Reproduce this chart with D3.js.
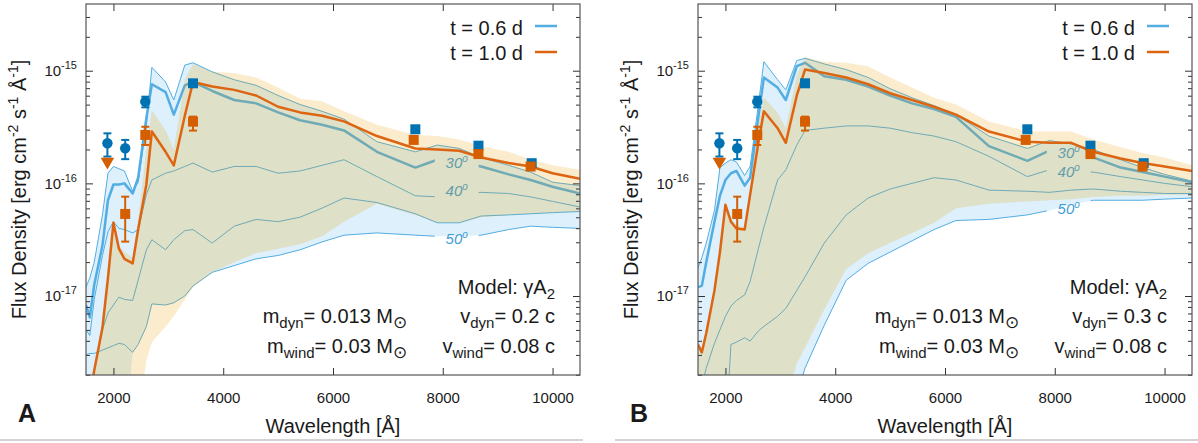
<!DOCTYPE html>
<html>
<head>
<meta charset="utf-8">
<script src="https://cdn.jsdelivr.net/npm/d3@7"></script>
<style>
  body { margin: 0; background: #fff; }
  svg { display: block; background: #fff; }
  text { font-family: "Liberation Sans", Arial, Helvetica, sans-serif; fill: #1a1a1a; }
</style>
</head>
<body>
<svg id="chart"></svg>
<script>
//--Data
// model wavelength grid [Å]
const wavelength = [1500, 1570, 1650, 1800, 1900, 2000, 2100, 2200, 2350, 2450, 2600, 2700, 2950, 3100, 3300, 3450,
  3800, 4200, 4600, 5000, 5400, 5800, 6200, 6800, 7500, 7900, 8300, 8700, 9200, 9600, 10000, 10500];

// Panel A (v_dyn = 0.2 c), log10 flux density [erg cm-2 s-1 Å-1]
// t = 0.6 d
const blueTopA = [-16.92, -16.84, -16.70, -16.28, -15.91, -15.85, -15.87, -15.89, -16.07, -15.99, -15.48, -14.97, -15.10, -15.26, -14.95, -14.93,
  -15.01, -15.08, -15.13, -15.22, -15.30, -15.36, -15.43, -15.63, -15.72, -15.66, -15.69, -15.77, -15.84, -15.90, -15.99, -16.02];
const blueMainA = [-17.08, -17.19, -16.90, -16.55, -16.15, -16.01, -16.01, -16.00, -16.09, -15.95, -15.42, -15.12, -15.19, -15.39, -15.13, -15.10,
  -15.18, -15.26, -15.29, -15.37, -15.44, -15.48, -15.53, -15.72, -15.86, -15.79, -15.81, -15.85, -15.92, -15.97, -16.03, -16.09];
const blue40A = [-17.30, -17.35, -17.03, -16.64, -16.43, -16.34, -16.40, -16.41, -16.44, -16.41, -16.10, -15.97, -15.91, -15.89, -15.85, -15.82,
  -15.90, -15.85, -15.85, -15.91, -15.89, -15.84, -15.79, -15.94, -16.11, -16.12, -16.10, -16.08, -16.09, -16.12, -16.16, -16.21];
const blue45A = [-18.01, -17.88, -17.67, -17.30, -17.15, -17.08, -17.01, -17.03, -17.04, -16.86, -16.59, -16.50, -16.59, -16.50, -16.42, -16.41,
  -16.53, -16.38, -16.32, -16.34, -16.30, -16.22, -16.13, -16.17, -16.27, -16.35, -16.35, -16.29, -16.28, -16.27, -16.26, -16.25];
const blueBottomA = [-17.52, -17.51, -17.51, -17.48, -17.46, -17.44, -17.42, -17.43, -17.50, -17.43, -17.27, -17.07, -17.08, -17.06, -17.00, -16.91,
  -16.79, -16.73, -16.67, -16.64, -16.59, -16.52, -16.46, -16.44, -16.46, -16.47, -16.47, -16.46, -16.41, -16.38, -16.39, -16.40];
const blueEnvelopeA = [-18.30, -18.30, -18.30, -18.30, -18.30, -18.30, -18.30, -18.30, -17.50, -17.43, -17.27, -17.07, -17.08, -17.06, -17.00, -16.91,
  -16.79, -16.73, -16.67, -16.64, -16.59, -16.52, -16.46, -16.44, -16.46, -16.47, -16.47, -16.46, -16.41, -16.38, -16.39, -16.40];
// t = 1.0 d
const orangeTopA = [-18.08, -17.86, -17.65, -17.26, -16.81, -16.33, -16.55, -16.61, -16.66, -16.32, -15.70, -15.35, -15.53, -15.70, -15.08, -14.94,
  -15.01, -15.02, -15.06, -15.15, -15.25, -15.27, -15.36, -15.48, -15.57, -15.58, -15.61, -15.67, -15.72, -15.79, -15.84, -15.88];
const orangeMainA = [-18.10, -17.88, -17.66, -17.28, -16.84, -16.35, -16.58, -16.67, -16.71, -16.41, -16.01, -15.54, -15.72, -15.84, -15.40, -15.10,
  -15.14, -15.17, -15.22, -15.32, -15.37, -15.40, -15.45, -15.58, -15.69, -15.70, -15.71, -15.77, -15.82, -15.85, -15.91, -15.96];
const orangeBottomA = [-18.28, -18.28, -18.28, -18.28, -18.28, -18.28, -18.28, -18.28, -18.28, -18.10, -17.57, -17.41, -17.27, -17.18, -17.03, -16.92,
  -16.79, -16.70, -16.62, -16.58, -16.54, -16.47, -16.34, -16.18, -16.28, -16.35, -16.35, -16.30, -16.28, -16.27, -16.26, -16.25];

// Panel B (v_dyn = 0.3 c)
const blueTopB = [-16.75, -16.66, -16.53, -16.24, -15.86, -15.82, -15.79, -15.81, -15.93, -15.85, -15.30, -14.92, -15.08, -15.17, -14.91, -14.89,
  -14.94, -14.99, -15.06, -15.16, -15.24, -15.31, -15.39, -15.58, -15.69, -15.62, -15.65, -15.70, -15.79, -15.86, -15.92, -15.98];
const blueMainB = [-16.92, -16.91, -16.70, -16.34, -16.11, -15.97, -15.91, -15.89, -16.02, -15.95, -15.41, -15.06, -15.15, -15.26, -14.96, -14.93,
  -15.05, -15.08, -15.14, -15.22, -15.29, -15.34, -15.41, -15.67, -15.80, -15.71, -15.73, -15.77, -15.86, -15.90, -15.94, -15.99];
const blue40B = [-17.92, -17.79, -17.64, -17.42, -17.30, -17.18, -17.09, -17.04, -16.99, -16.87, -16.58, -16.39, -15.97, -15.88, -15.66, -15.53,
  -15.51, -15.49, -15.49, -15.51, -15.55, -15.58, -15.63, -15.76, -15.94, -15.88, -15.89, -15.90, -15.94, -15.97, -16.00, -16.03];
const blue45B = [-18.54, -18.54, -18.54, -18.54, -18.45, -18.28, -17.43, -17.41, -17.37, -17.40, -17.31, -17.27, -17.18, -17.11, -16.95, -16.83,
  -16.53, -16.28, -16.13, -16.05, -16.00, -15.95, -15.97, -16.06, -16.07, -16.08, -16.06, -16.05, -16.07, -16.08, -16.09, -16.09];
const blueBottomB = [-18.54, -18.54, -18.54, -18.54, -18.54, -18.54, -18.54, -18.54, -18.54, -18.54, -18.54, -18.54, -18.54, -18.54, -17.88, -17.64,
  -17.26, -16.86, -16.71, -16.61, -16.51, -16.41, -16.33, -16.32, -16.28, -16.24, -16.19, -16.15, -16.15, -16.15, -16.14, -16.13];
const orangeTopB = [-17.42, -17.48, -17.31, -16.93, -16.59, -16.17, -16.31, -16.37, -16.39, -16.06, -15.48, -15.24, -15.37, -15.51, -15.04, -14.88,
  -14.92, -14.93, -14.96, -15.06, -15.15, -15.24, -15.30, -15.45, -15.54, -15.54, -15.54, -15.61, -15.68, -15.73, -15.77, -15.84];
const orangeMainB = [-17.43, -17.50, -17.33, -16.95, -16.61, -16.19, -16.34, -16.40, -16.41, -16.10, -15.64, -15.36, -15.51, -15.64, -15.22, -14.99,
  -15.02, -15.06, -15.12, -15.20, -15.26, -15.32, -15.39, -15.54, -15.63, -15.64, -15.64, -15.72, -15.78, -15.82, -15.85, -15.89];
const orangeBottomB = [-18.54, -18.54, -18.54, -18.54, -18.54, -18.54, -18.54, -18.54, -18.54, -18.54, -18.54, -18.54, -18.54, -17.92, -17.60, -17.46,
  -17.12, -16.76, -16.62, -16.53, -16.44, -16.35, -16.22, -16.18, -16.16, -16.15, -16.14, -16.12, -16.11, -16.11, -16.10, -16.10];

// observations, flux in units of 1e-16
const blueObsWave = [1890, 2214, 2580, 3450, 7500, 8650, 9620];
const blueObsFlux = [2.27, 2.05, 5.31, 7.73, 3.02, 2.16, 1.51];
const blueObsLow = [1.73, 1.64, 4.73, null, null, null, null];
const blueObsHigh = [2.78, 2.43, 5.88, null, null, null, null];
const blueObsShape = ["circle", "circle", "circle", "square", "square", "square", "square"];
const orangeObsWave = [2214, 2580, 3450, 7470, 8650, 9600];
const orangeObsFlux = [0.535, 2.69, 3.53, 2.43, 1.82, 1.41];
const orangeObsLow = [0.304, 2.19, 2.94, null, null, null];
const orangeObsHigh = [0.762, 3.18, 3.91, null, null, null];
const orangeLimitWave = [1890];
const orangeLimitFlux = [1.56];

// viewing angle labels
const angleText = ["30", "40", "50"];
const angleWave = 8254;
const angleFluxA = [-15.82, -16.07, -16.49];
const angleFluxB = [-15.73, -15.90, -16.23];

const legendText = ["t = 0.6 d", "t = 1.0 d"];
const vDyn = ["0.2", "0.3"];

//--Shared info
const canvas = {
  width: 1198,
  height: 443,
  top: 4,
  bottom: 375,
  plotWidth: 494,
  blue: "#52ADE3",
  blueText: "#3f9dd6",
  orange: "#DD6512",
  blueDot: "#0072B2",
  orangeDot: "#D55E00",
  blueFill: "rgba(86,180,233,0.2)",
  orangeFill: "rgba(230,159,0,0.2)",
  frame: "#555"
};

const root = d3.select("#chart")
  .attr("width", canvas.width)
  .attr("height", canvas.height);
const defs = root.append("defs");

const panels = [
  { name: "A", left: 86, lineX: [0, 583], blue: [blueTopA, blueMainA, blue40A, blue45A, blueBottomA], envelope: blueEnvelopeA,
    orange: [orangeTopA, orangeMainA, orangeBottomA], angle: angleFluxA, vdyn: vDyn[0] },
  { name: "B", left: 698, lineX: [615, 1198], blue: [blueTopB, blueMainB, blue40B, blue45B, blueBottomB], envelope: blueBottomB,
    orange: [orangeTopB, orangeMainB, orangeBottomB], angle: angleFluxB, vdyn: vDyn[1] }
];

panels.forEach(plot);

//--Plotting
function plot(p) {
  const x0 = p.left, x1 = p.left + canvas.plotWidth;
  const x = d3.scaleLinear().domain([1500, 10500]).range([x0, x1]);
  const y = d3.scaleLog().domain([1.99e-18, 3.91e-15]).range([canvas.bottom, canvas.top]);
  const fy = v => y(Math.pow(10, v));
  const g = root.append("g");

  const clipId = "clip" + p.name;
  defs.append("clipPath").attr("id", clipId)
    .append("rect")
    .attr("x", x0).attr("y", canvas.top)
    .attr("width", x1 - x0).attr("height", canvas.bottom - canvas.top);
  const area = g.append("g").attr("clip-path", `url(#${clipId})`);

  const line = d3.line().x((d, i) => x(wavelength[i])).y(d => fy(d));
  const band = (lo, hi) => d3.area()
    .x((d, i) => x(wavelength[i]))
    .y0((d, i) => fy(lo[i]))
    .y1((d, i) => fy(hi[i]))(wavelength);

  const [bTop, bMain, b40, b45, bBot] = p.blue;
  const [oTop, oMain, oBot] = p.orange;

  // label holes in the angle lines
  const holeId = k => `hole${p.name}${k}`;
  p.angle.forEach((v, k) => {
    const cy = fy(v);
    const hx0 = x(angleWave - 400), hx1 = x(angleWave + 400);
    defs.append("clipPath").attr("id", holeId(k))
      .append("path")
      .attr("clip-rule", "evenodd")
      .attr("d", `M${x0},${canvas.top}H${x1}V${canvas.bottom}H${x0}Z` +
        `M${hx0},${cy - 11}H${hx1}V${cy + 11}H${hx0}Z`);
  });

  //--t = 0.6 d band and lines
  area.append("path").attr("d", band(p.envelope, bTop)).attr("fill", canvas.blueFill);
  area.append("path").attr("d", line(bTop))
    .attr("fill", "none").attr("stroke", canvas.blue).attr("stroke-width", 1);
  area.append("path").attr("d", line(b45))
    .attr("fill", "none").attr("stroke", canvas.blue).attr("stroke-width", 1);
  [[b40, 1, 1], [bBot, 1, 2], [bMain, 2.5, 0]].forEach(([arr, w, k]) => {
    area.append("path").attr("d", line(arr))
      .attr("clip-path", `url(#${holeId(k)})`)
      .attr("fill", "none").attr("stroke", canvas.blue)
      .attr("stroke-width", w).attr("stroke-linejoin", "round");
  });

  // angle labels
  p.angle.forEach((v, k) => {
    const t = area.append("text")
      .attr("x", x(angleWave)).attr("y", fy(v) + 5)
      .attr("text-anchor", "middle")
      .style("font-size", "15px").style("font-style", "italic")
      .style("fill", canvas.blueText)
      .text(angleText[k]);
    t.append("tspan").attr("dy", -6).style("font-size", "10px").text("o");
  });

  //--t = 1.0 d band and line
  area.append("path").attr("d", band(oBot, oTop)).attr("fill", canvas.orangeFill);
  area.append("path").attr("d", line(oMain))
    .attr("fill", "none").attr("stroke", canvas.orange)
    .attr("stroke-width", 2.5).attr("stroke-linejoin", "round");

  //--Observations
  const errorBar = (sel, wave, lo, hi, color) => {
    wave.forEach((w, i) => {
      if (lo[i] == null) return;
      const cx = x(w), ya = y(lo[i] * 1e-16), yb = y(hi[i] * 1e-16);
      sel.append("line").attr("x1", cx).attr("x2", cx).attr("y1", ya).attr("y2", yb)
        .attr("stroke", color).attr("stroke-width", 2);
      [ya, yb].forEach(yy => sel.append("line")
        .attr("x1", cx - 4).attr("x2", cx + 4).attr("y1", yy).attr("y2", yy)
        .attr("stroke", color).attr("stroke-width", 2));
    });
  };
  const pts = g.append("g");
  errorBar(pts, blueObsWave, blueObsLow, blueObsHigh, canvas.blueDot);
  pts.selectAll(".bdot").data(blueObsWave).enter().append("path")
    .attr("transform", (d, i) => `translate(${x(d)},${y(blueObsFlux[i] * 1e-16)})`)
    .attr("d", (d, i) => d3.symbol(blueObsShape[i] === "circle" ? d3.symbolCircle : d3.symbolSquare,
      blueObsShape[i] === "circle" ? 85 : 100)())
    .attr("fill", canvas.blueDot);
  errorBar(pts, orangeObsWave, orangeObsLow, orangeObsHigh, canvas.orangeDot);
  pts.selectAll(".odot").data(orangeObsWave).enter().append("path")
    .attr("transform", (d, i) => `translate(${x(d)},${y(orangeObsFlux[i] * 1e-16)})`)
    .attr("d", d3.symbol(d3.symbolSquare, 100)())
    .attr("fill", canvas.orangeDot);
  pts.selectAll(".olim").data(orangeLimitWave).enter().append("path")
    .attr("transform", (d, i) => `translate(${x(d)},${y(orangeLimitFlux[i] * 1e-16)}) rotate(180)`)
    .attr("d", d3.symbol(d3.symbolTriangle, 80)())
    .attr("fill", canvas.orangeDot);

  //--Axes
  const allTicks = y.ticks();
  const majors = allTicks.filter(d => Math.abs(Math.log10(d) - Math.round(Math.log10(d))) < 1e-6);
  const minors = allTicks.filter(d => majors.indexOf(d) < 0);
  const style = ax => {
    ax.select(".domain").remove();
    ax.selectAll("line").attr("stroke", "#333");
    ax.selectAll("text").style("font-size", "15px").style("fill", "#1a1a1a");
  };
  g.append("g").attr("transform", `translate(0,${canvas.bottom})`)
    .call(d3.axisBottom(x).ticks(5).tickFormat(d3.format("d")).tickSize(-7).tickPadding(17)).call(style);
  g.append("g").attr("transform", `translate(0,${canvas.top})`)
    .call(d3.axisTop(x).ticks(5).tickFormat("").tickSize(-7)).call(style);
  const left = g.append("g").attr("transform", `translate(${x0},0)`)
    .call(d3.axisLeft(y).tickValues(majors).tickSize(-7).tickPadding(9)).call(style);
  left.selectAll("text").text(null).each(function (d) {
    const t = d3.select(this);
    t.append("tspan").text("10");
    t.append("tspan").attr("dy", -7).style("font-size", "11px").text(Math.round(Math.log10(d)));
  });
  g.append("g").attr("transform", `translate(${x0},0)`)
    .call(d3.axisLeft(y).tickValues(minors).tickSize(-4).tickFormat("")).call(style);
  g.append("g").attr("transform", `translate(${x1},0)`)
    .call(d3.axisRight(y).tickValues(majors).tickSize(-7).tickFormat("")).call(style);
  g.append("g").attr("transform", `translate(${x1},0)`)
    .call(d3.axisRight(y).tickValues(minors).tickSize(-4).tickFormat("")).call(style);

  g.append("rect")
    .attr("x", x0).attr("y", canvas.top)
    .attr("width", x1 - x0).attr("height", canvas.bottom - canvas.top)
    .attr("fill", "none").attr("stroke", canvas.frame).attr("stroke-width", 1.2);

  // axis titles
  g.append("text")
    .attr("x", (x0 + x1) / 2).attr("y", 433)
    .attr("text-anchor", "middle").style("font-size", "20px")
    .text("Wavelength [Å]");
  const yt = g.append("text")
    .attr("transform", `translate(${x0 - 60},${(canvas.top + canvas.bottom) / 2}) rotate(-90)`)
    .attr("text-anchor", "middle").style("font-size", "20px");
  [["Flux Density [erg cm", 0], ["-2", 1], [" s", 0], ["-1", 1], [" Å", 0], ["-1", 1], ["]", 0]].forEach(([s, sup], i, a) => {
    const prev = i > 0 ? a[i - 1][1] : 0;
    yt.append("tspan")
      .attr("dy", sup && !prev ? -8 : (!sup && prev ? 8 : 0))
      .style("font-size", sup ? "14px" : "20px")
      .text(s);
  });

  // panel letter and separator
  g.append("text").attr("x", x0 - 68).attr("y", 422)
    .style("font-size", "25px").style("font-weight", "bold").text(p.name);
  g.append("line")
    .attr("x1", p.lineX[0]).attr("x2", p.lineX[1]).attr("y1", 440).attr("y2", 440)
    .attr("stroke", "#c4c4c4").attr("stroke-width", 1.5);

  //--Legend
  [canvas.blue, canvas.orange].forEach((c, i) => {
    g.append("text")
      .attr("x", x0 + 437).attr("y", 35 + i * 25)
      .attr("text-anchor", "end").style("font-size", "20px")
      .text(legendText[i]);
    g.append("line")
      .attr("x1", x0 + 449).attr("x2", x0 + 471)
      .attr("y1", 26 + i * 26).attr("y2", 26 + i * 26)
      .attr("stroke", c).attr("stroke-width", 2.5);
  });

  //--Model annotations
  const rich = (xx, yy, parts) => {
    const t = g.append("text").attr("x", xx).attr("y", yy)
      .attr("text-anchor", "end").style("font-size", "20px");
    let shift = 0;
    parts.forEach(([s, sub, size]) => {
      const target = sub ? 5 : 0;
      t.append("tspan").attr("dy", target - shift)
        .style("font-size", (size || (sub ? 15 : 20)) + "px").text(s);
      shift = target;
    });
  };
  rich(x0 + 469, 294, [["Model: γA", 0], ["2", 1]]);
  rich(x0 + 469, 323, [["v", 0], ["dyn", 1], ["= " + p.vdyn + " c", 0]]);
  rich(x0 + 469, 353, [["v", 0], ["wind", 1], ["= 0.08 c", 0]]);
  rich(x0 + 321, 323, [["m", 0], ["dyn", 1], ["= 0.013 M", 0], ["⊙", 1, 17]]);
  rich(x0 + 321, 353, [["m", 0], ["wind", 1], ["= 0.03 M", 0], ["⊙", 1, 17]]);
}
</script>
</body>
</html>
